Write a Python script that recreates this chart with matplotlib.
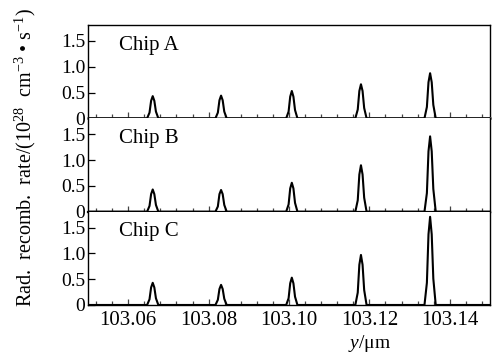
import matplotlib
matplotlib.use('Agg')
import matplotlib.pyplot as plt
from matplotlib.ticker import MultipleLocator, FixedLocator, FixedFormatter

plt.rcParams['font.family'] = ['Liberation Serif', 'DejaVu Serif']
plt.rcParams['mathtext.fontset'] = 'custom'
plt.rcParams['mathtext.rm'] = 'Liberation Serif'
plt.rcParams['mathtext.it'] = 'Liberation Serif:italic'

# ---- data ----
chips = ['Chip A', 'Chip B', 'Chip C']
peak_centers = [103.0661, 103.0831, 103.1007, 103.1179, 103.1351]
peak_offsets = [-0.0014, -0.0008, -0.0004, 0.0, 0.0004, 0.0008, 0.0014]

chip_a_peaks = [
    [0, 0.11, 0.34, 0.43, 0.34, 0.13, 0],
    [0, 0.11, 0.35, 0.44, 0.35, 0.13, 0],
    [0, 0.13, 0.42, 0.53, 0.42, 0.16, 0],
    [0, 0.17, 0.53, 0.66, 0.53, 0.20, 0],
    [0, 0.22, 0.70, 0.875, 0.70, 0.26, 0],
]
chip_b_peaks = [
    [0, 0.11, 0.34, 0.43, 0.34, 0.13, 0],
    [0, 0.10, 0.34, 0.42, 0.34, 0.13, 0],
    [0, 0.14, 0.45, 0.56, 0.45, 0.17, 0],
    [0, 0.22, 0.72, 0.90, 0.72, 0.27, 0],
    [0, 0.36, 1.17, 1.46, 1.17, 0.44, 0],
]
chip_c_peaks = [
    [0, 0.11, 0.34, 0.43, 0.34, 0.13, 0],
    [0, 0.10, 0.31, 0.39, 0.31, 0.12, 0],
    [0, 0.13, 0.42, 0.53, 0.42, 0.16, 0],
    [0, 0.24, 0.78, 0.97, 0.78, 0.29, 0],
    [0, 0.43, 1.37, 1.71, 1.37, 0.51, 0],
]
x_range = [103.05, 103.15]
y_ticks = [0, 0.5, 1.0, 1.5]
y_ticklabels = ['0', '0.5', '1.0', '1.5']
x_ticks = [103.06, 103.08, 103.10, 103.12, 103.14]
x_ticklabels = ['103.06', '103.08', '103.10', '103.12', '103.14']

all_peaks = [chip_a_peaks, chip_b_peaks, chip_c_peaks]

fig, axes = plt.subplots(3, 1, figsize=(5, 3.62), dpi=100, sharex=True)
fig.subplots_adjust(left=0.176, right=0.98, top=0.931, bottom=0.1575, hspace=0)

FS = 15
for i, (ax, name, peaks) in enumerate(zip(axes, chips, all_peaks)):
    xs = [x_range[0]]
    ys = [0]
    for c, prof in zip(peak_centers, peaks):
        for o, v in zip(peak_offsets, prof):
            xs.append(c + o)
            ys.append(v)
    xs.append(x_range[1])
    ys.append(0)
    ax.plot(xs, ys, color='black', lw=1.5, zorder=3)
    ax.set_xlim(*x_range)
    ax.set_ylim(0, 1.81)
    ax.yaxis.set_major_locator(FixedLocator(y_ticks))
    ax.yaxis.set_major_formatter(FixedFormatter(y_ticklabels))
    ax.xaxis.set_major_locator(FixedLocator(x_ticks))
    ax.xaxis.set_minor_locator(MultipleLocator(0.004))
    ax.tick_params(axis='y', direction='in', length=5, width=0.9, labelsize=14, pad=2)
    ax.tick_params(axis='x', which='major', direction='in', length=4.5, width=0.9,
                   labelsize=FS, pad=4, color='#444444')
    ax.tick_params(axis='x', which='minor', direction='in', length=3, width=0.9,
                   color='#444444')
    ax.text(0.077, 1.42, name, fontsize=FS, va='center', ha='left',
            transform=ax.get_yaxis_transform())
    for s in ['left', 'right', 'top', 'bottom']:
        ax.spines[s].set_linewidth(1.0)
        ax.spines[s].set_color('black')
    if i > 0:
        ax.spines['top'].set_visible(False)
    if i == 0:
        ax.spines['bottom'].set_color('#666666')
        ax.spines['bottom'].set_linewidth(1.8)
    elif i == 1:
        ax.spines['bottom'].set_linewidth(1.6)
    if i < 2:
        ax.tick_params(axis='x', labelbottom=False)

axes[2].xaxis.set_major_formatter(FixedFormatter(x_ticklabels))
axes[2].set_xlabel('$y$/μm', fontsize=14, labelpad=6)
axes[2].xaxis.set_label_coords(0.70, -0.30)

fig.text(0.05, 0.566, 'Rad.  recomb.  rate/(10$^{28}$  cm$^{-3}$ • s$^{-1}$)',
         rotation=90, va='center', ha='center', fontsize=14.5)

fig.savefig('out.png', dpi=100)
